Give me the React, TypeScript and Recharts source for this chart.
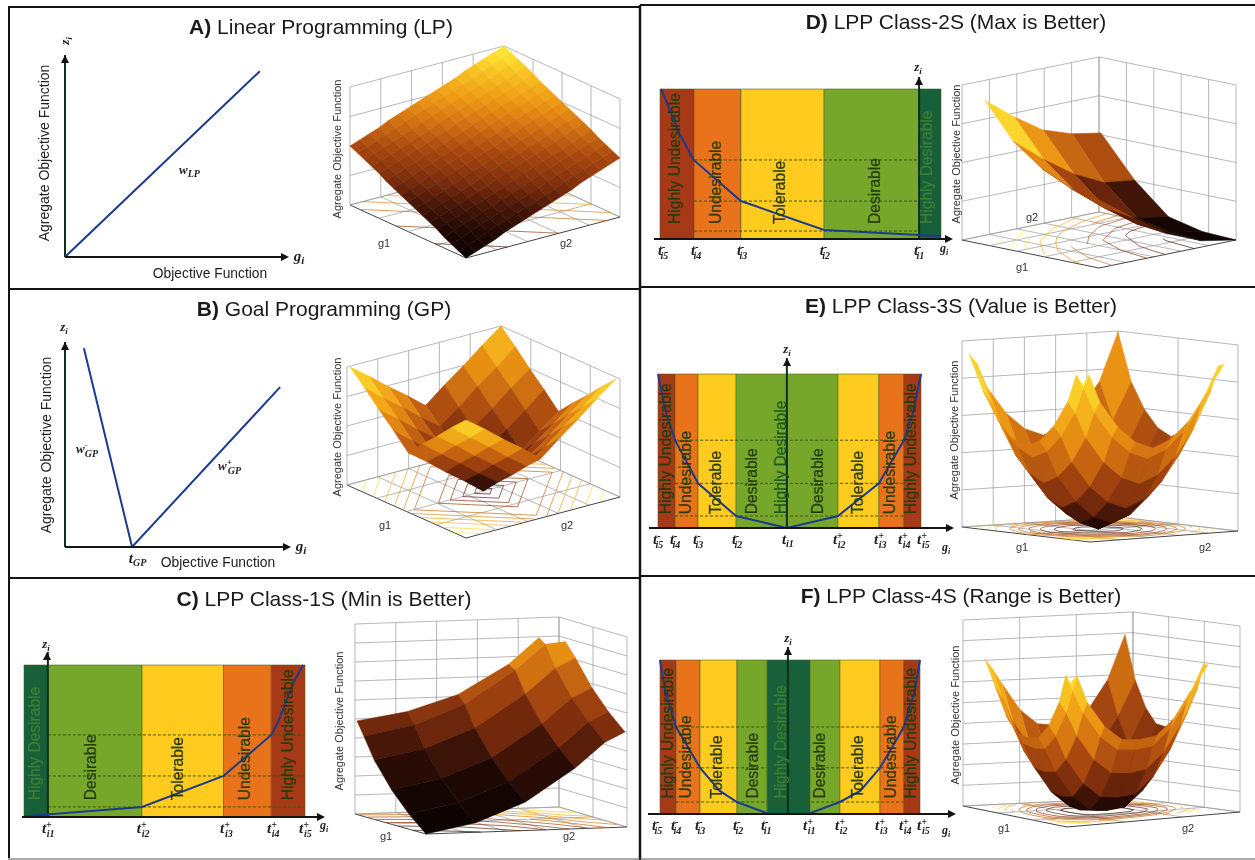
import React from 'react';
import { ComposedChart, XAxis, YAxis, Scatter, Line, ReferenceArea, ReferenceLine } from 'recharts';

// ---------- 2D chart values (g and z are percent of the plotted band span) ----------
const BAND_COLORS: Record<string, string> = { HU: '#a63a16', U: '#e8731a', T: '#ffcb1e', D: '#76a72a', HD: '#17603a' };
const LABEL_NAMES: Record<string, string> = { HU: 'Highly Undesirable', U: 'Undesirable', T: 'Tolerable', D: 'Desirable', HD: 'Highly Desirable' };

const lineA = [{ g: 0, z: 0 }, { g: 87, z: 92 }];
const lineB = [{ g: 8.4, z: 97 }, { g: 29.8, z: 0 }, { g: 95.6, z: 78 }];
const lineC = [{ g: 0, z: 0.5 }, { g: 42, z: 6.6 }, { g: 71, z: 27 }, { g: 88, z: 54 }, { g: 90.4, z: 62.5 }, { g: 96, z: 88.8 }, { g: 99.3, z: 100 }];
const lineD = [{ g: 0.4, z: 100 }, { g: 6.8, z: 70.7 }, { g: 12, z: 52.7 }, { g: 28.8, z: 25.3 }, { g: 58.4, z: 6 }, { g: 92.2, z: 2.7 }, { g: 100, z: 2 }];
const lineE = [{ g: 0, z: 100 }, { g: 3, z: 75 }, { g: 6.5, z: 57 }, { g: 15.2, z: 29 }, { g: 29.7, z: 7.8 }, { g: 49, z: 0 }, { g: 68.4, z: 7.8 }, { g: 84, z: 29 }, { g: 93.5, z: 57 }, { g: 97, z: 75 }, { g: 100, z: 100 }];
const lineFLeft = [{ g: 0, z: 100 }, { g: 2, z: 80 }, { g: 6.2, z: 56.5 }, { g: 15.4, z: 30 }, { g: 23, z: 15 }, { g: 29.6, z: 7.8 }, { g: 41.2, z: 0.5 }];
const lineFRight = [{ g: 57.7, z: 0.5 }, { g: 69.2, z: 7.8 }, { g: 77, z: 15 }, { g: 84.6, z: 30 }, { g: 93.8, z: 56.5 }, { g: 98, z: 80 }, { g: 100, z: 100 }];

const bandsC = [['HD', 0, 8.5], ['D', 8.5, 42], ['T', 42, 71], ['U', 71, 88], ['HU', 88, 100]];
const bandsD = [['HU', 0, 12.1], ['U', 12.1, 28.8], ['T', 28.8, 58.4], ['D', 58.4, 92.2], ['HD', 92.2, 100]];
const bandsE = [['HU', 0, 6.5], ['U', 6.5, 15.2], ['T', 15.2, 29.7], ['D', 29.7, 68.4], ['T', 68.4, 84], ['U', 84, 93.5], ['HU', 93.5, 100]];
const bandsF = [['HU', 0, 6.2], ['U', 6.2, 15.4], ['T', 15.4, 29.6], ['D', 29.6, 41.2], ['HD', 41.2, 57.7], ['D', 57.7, 69.2], ['T', 69.2, 84.6], ['U', 84.6, 93.8], ['HU', 93.8, 100]];

const labelsC = [['HD', 3.9], ['D', 23.5], ['T', 54.8], ['U', 78.6], ['HU', 93.6]];
const labelsD = [['HU', 5.3], ['U', 19.9], ['T', 42.7], ['D', 76.2], ['HD', 95]];
const labelsE = [['HU', 2.7], ['U', 10.3], ['T', 22], ['D', 35.4], ['HDL', 46.4], ['D', 60.8], ['T', 75.7], ['U', 88.2], ['HU', 96.2]];
const labelsF = [['HU', 2.7], ['U', 10], ['T', 21.9], ['D', 35.4], ['HD', 46.5], ['D', 61.5], ['T', 75.8], ['U', 88.8], ['HU', 96.5]];

const ticksC = [[8.5, '+', 'i1'], [42.3, '+', 'i2'], [71.9, '+', 'i3'], [88.6, '+', 'i4'], [100, '+', 'i5']];
const ticksD = [[1.4, '-', 'i5'], [13.2, '-', 'i4'], [29.5, '-', 'i3'], [59, '-', 'i2'], [92.5, '-', 'i1']];
const ticksE = [[0.4, '-', 'i5'], [6.8, '-', 'i4'], [15.6, '-', 'i3'], [30.4, '-', 'i2'], [49.4, '', 'i1'], [68.8, '+', 'i2'], [84.4, '+', 'i3'], [93.5, '+', 'i4'], [100.8, '+', 'i5']];
const ticksF = [[-0.8, '-', 'i5'], [6.5, '-', 'i4'], [15.8, '-', 'i3'], [30.4, '-', 'i2'], [41.2, '-', 'i1'], [57.3, '+', 'i1'], [69.6, '+', 'i2'], [85, '+', 'i3'], [94.2, '+', 'i4'], [101.2, '+', 'i5']];
const ticksB = [[31, '', 'GP']];

const dashC = [6.6, 27, 54];
const dashD = [5.3, 25.3, 52.7];
const dashE = [7.8, 29, 57];
const dashF = [7.8, 30, 56.5];

// ---------- 3D surface heights, rows along g1, columns along g2 ----------
const uvEven17 = [0, .0625, .125, .1875, .25, .3125, .375, .4375, .5, .5625, .625, .6875, .75, .8125, .875, .9375, 1];
const uvEven9 = [0, 0.125, 0.25, 0.375, 0.5, 0.625, 0.75, 0.875, 1];
const uvC = [0, 0.25, 0.5, 0.75, 0.9, 1];
const uvD = [0, 0.25, 0.5, 0.75, 1];
const uvFine = [0, 0.05, 0.125, 0.25, 0.375, 0.5, 0.625, 0.75, 0.875, 1];

const surfaceA = [
  [0, .03, .06, .09, .13, .16, .19, .22, .25, .28, .31, .34, .38, .41, .44, .47, .5],
  [.03, .06, .09, .13, .16, .19, .22, .25, .28, .31, .34, .38, .41, .44, .47, .5, .53],
  [.06, .09, .13, .16, .19, .22, .25, .28, .31, .34, .38, .41, .44, .47, .5, .53, .56],
  [.09, .13, .16, .19, .22, .25, .28, .31, .34, .38, .41, .44, .47, .5, .53, .56, .59],
  [.13, .16, .19, .22, .25, .28, .31, .34, .38, .41, .44, .47, .5, .53, .56, .59, .63],
  [.16, .19, .22, .25, .28, .31, .34, .38, .41, .44, .47, .5, .53, .56, .59, .63, .66],
  [.19, .22, .25, .28, .31, .34, .38, .41, .44, .47, .5, .53, .56, .59, .63, .66, .69],
  [.22, .25, .28, .31, .34, .38, .41, .44, .47, .5, .53, .56, .59, .63, .66, .69, .72],
  [.25, .28, .31, .34, .38, .41, .44, .47, .5, .53, .56, .59, .63, .66, .69, .72, .75],
  [.28, .31, .34, .38, .41, .44, .47, .5, .53, .56, .59, .63, .66, .69, .72, .75, .78],
  [.31, .34, .38, .41, .44, .47, .5, .53, .56, .59, .63, .66, .69, .72, .75, .78, .81],
  [.34, .38, .41, .44, .47, .5, .53, .56, .59, .63, .66, .69, .72, .75, .78, .81, .84],
  [.38, .41, .44, .47, .5, .53, .56, .59, .63, .66, .69, .72, .75, .78, .81, .84, .88],
  [.41, .44, .47, .5, .53, .56, .59, .63, .66, .69, .72, .75, .78, .81, .84, .88, .91],
  [.44, .47, .5, .53, .56, .59, .63, .66, .69, .72, .75, .78, .81, .84, .88, .91, .94],
  [.47, .5, .53, .56, .59, .63, .66, .69, .72, .75, .78, .81, .84, .88, .91, .94, .97],
  [.5, .53, .56, .59, .63, .66, .69, .72, .75, .78, .81, .84, .88, .91, .94, .97, 1],
];
const surfaceB = [
  [1, .88, .75, .63, .5, .63, .75, .88, 1],
  [.88, .75, .63, .5, .38, .5, .63, .75, .88],
  [.75, .63, .5, .38, .25, .38, .5, .63, .75],
  [.63, .5, .38, .25, .13, .25, .38, .5, .63],
  [.5, .38, .25, .13, 0, .13, .25, .38, .5],
  [.63, .5, .38, .25, .13, .25, .38, .5, .63],
  [.75, .63, .5, .38, .25, .38, .5, .63, .75],
  [.88, .75, .63, .5, .38, .5, .63, .75, .88],
  [1, .88, .75, .63, .5, .63, .75, .88, 1],
];
const surfaceC = [
  [0, .05, .15, .32, .45, .50],
  [.08, .13, .23, .40, .53, .58],
  [.18, .23, .33, .50, .63, .68],
  [.31, .36, .46, .63, .76, .81],
  [.42, .47, .57, .74, .87, .88],
  [.49, .53, .61, .76, .895, .78],
];
const surfaceD = [
  [.44, .28, .13, .04, 0],
  [.47, .30, .15, .05, .01],
  [.55, .37, .21, .10, .06],
  [.68, .52, .38, .28, .25],
  [.90, .75, .62, .55, .51],
];
const surfaceE = [
  [.83, .89, .74, .60, .51, .47, .51, .60, .74, .89],
  [.89, .82, .68, .54, .45, .41, .45, .54, .68, .88],
  [.74, .68, .54, .40, .31, .27, .31, .40, .54, .74],
  [.60, .54, .40, .26, .17, .13, .17, .26, .40, .60],
  [.51, .45, .31, .17, .08, .04, .08, .17, .31, .51],
  [.47, .41, .27, .13, .04, 0, .04, .13, .27, .47],
  [.51, .45, .31, .17, .08, .04, .08, .17, .31, .51],
  [.60, .54, .40, .26, .17, .13, .17, .26, .40, .60],
  [.74, .68, .54, .40, .31, .27, .31, .40, .54, .74],
  [.93, .88, .74, .60, .51, .47, .51, .60, .74, 1],
];
const surfaceF = [
  [.76, .80, .65, .51, .43, .42, .43, .51, .65, .78],
  [.80, .72, .59, .45, .37, .36, .37, .45, .59, .78],
  [.65, .59, .46, .32, .24, .23, .24, .32, .46, .65],
  [.51, .45, .32, .18, .10, .09, .10, .18, .32, .51],
  [.43, .37, .24, .10, .02, .01, .02, .10, .24, .43],
  [.42, .36, .23, .09, .01, 0, .01, .09, .23, .42],
  [.43, .37, .24, .10, .02, .01, .02, .10, .24, .43],
  [.51, .45, .32, .18, .10, .09, .10, .18, .32, .51],
  [.65, .59, .46, .32, .24, .23, .24, .32, .46, .65],
  [.79, .74, .65, .51, .43, .42, .43, .51, .65, .89],
];
const contourLevels = [0.06, 0.14, 0.22, 0.3, 0.38, 0.46, 0.54, 0.62, 0.7, 0.8, 0.9];

// ---------- colour map ----------
const STOPS: [number, number[]][] = [
  [0, [11, 3, 1]], [0.12, [30, 8, 4]], [0.25, [74, 24, 8]], [0.35, [122, 44, 12]], [0.5, [168, 72, 15]],
  [0.65, [216, 121, 18]], [0.75, [238, 154, 20]], [0.88, [248, 196, 34]], [1, [255, 239, 58]],
];
function hot(t: number) {
  const v = Math.max(0, Math.min(1, t));
  for (let i = 1; i < STOPS.length; i++) {
    if (v <= STOPS[i][0]) {
      const [a, ca] = STOPS[i - 1];
      const [b, cb] = STOPS[i];
      const f = (v - a) / (b - a);
      const c = ca.map((x, k) => Math.round(x + (cb[k] - x) * f));
      return `rgb(${c[0]},${c[1]},${c[2]})`;
    }
  }
  return 'rgb(255,239,58)';
}

// ---------- 3D panel ----------
type P = [number, number];
type View = {
  box: { L: P; R: P; F: P; B: P }; surf: { L: P; R: P; F: P; B: P }; h: number;
  u: number[]; v: number[]; z: number[][]; cs: number; gamma: number; back: number; divL: number; divR: number; divZ: number;
};
const lerp = (a: P, b: P, t: number): P => [a[0] + (b[0] - a[0]) * t, a[1] + (b[1] - a[1]) * t];
const quad = (q: View['surf'], u: number, v: number): P => lerp(lerp(q.F, q.L, u), lerp(q.R, q.B, u), v);

function buildPrims(w: View) {
  const prims: any[] = [];
  const seg = (pts: P[], stroke: string, sw: number) => prims.push({ x: pts[0][0], y: pts[0][1], pts, stroke, sw, fill: 'none' });
  const { L, R, F, B } = w.box;
  const up = (p: P, k: number): P => [p[0], p[1] - k * w.h];
  const grid = '#999';
  for (let k = 0; k <= w.divZ; k++) {
    const t = k / w.divZ;
    seg([up(L, t), up(B, t), up(R, t)], grid, 0.7);
  }
  for (let a = 0; a <= w.divL; a++) {
    const p = lerp(L, B, a / w.divL);
    seg([up(p, 0), up(p, 1)], grid, 0.7);
    seg([p, lerp(F, R, a / w.divL)], a === 0 ? '#444' : grid, a === 0 ? 1 : 0.7);
  }
  for (let b = 0; b <= w.divR; b++) {
    const p = lerp(R, B, b / w.divR);
    seg([up(p, 0), up(p, 1)], grid, 0.7);
    seg([p, lerp(F, L, b / w.divR)], b === 0 ? '#444' : grid, b === 0 ? 1 : 0.7);
  }
  // contours of the height table, on the floor
  const n = w.u.length, m = w.v.length;
  contourLevels.forEach((lv) => {
    for (let i = 0; i < n - 1; i++) for (let j = 0; j < m - 1; j++) {
      const c: [number, number, number][] = [
        [w.u[i], w.v[j], w.z[i][j]], [w.u[i + 1], w.v[j], w.z[i + 1][j]],
        [w.u[i + 1], w.v[j + 1], w.z[i + 1][j + 1]], [w.u[i], w.v[j + 1], w.z[i][j + 1]],
      ];
      const cross: P[] = [];
      for (let e = 0; e < 4; e++) {
        const a = c[e], b = c[(e + 1) % 4];
        if ((a[2] - lv) * (b[2] - lv) < 0) {
          const t = (lv - a[2]) / (b[2] - a[2]);
          cross.push(quad(w.surf, a[0] + (b[0] - a[0]) * t, a[1] + (b[1] - a[1]) * t));
        }
      }
      const col = hot(lv * w.cs + 0.15);
      if (cross.length >= 2) seg([cross[0], cross[1]], col, 0.7);
      if (cross.length === 4) seg([cross[2], cross[3]], col, 0.7);
    }
  });
  // facets, back to front
  const facets: any[] = [];
  for (let i = 0; i < n - 1; i++) for (let j = 0; j < m - 1; j++) {
    const node = (a: number, b: number): P => up(quad(w.surf, w.u[a], w.v[b]), w.z[a][b]);
    const pts = [node(i, j), node(i + 1, j), node(i + 1, j + 1), node(i, j + 1)];
    const mean = (w.z[i][j] + w.z[i + 1][j] + w.z[i + 1][j + 1] + w.z[i][j + 1]) / 4;
    const um = (w.u[i] + w.u[i + 1]) / 2, vm = (w.v[j] + w.v[j + 1]) / 2;
    const shade = um > 0.5 && vm > 0.5 ? w.back : 1;
    const c = hot(Math.pow(Math.min(1, mean * w.cs), w.gamma) * shade);
    const depth = quad(w.surf, um, vm)[1];
    facets.push({ x: pts[0][0], y: pts[0][1], pts, fill: c, stroke: c, sw: 0.5, closed: true, depth });
  }
  facets.sort((a, b) => a.depth - b.depth);
  return prims.concat(facets);
}

const PrimShape = (p: any) => {
  const d = p.payload;
  const cx = p.cx ?? p.x;
  const cy = p.cy ?? p.y;
  if (cx == null || !d || !d.pts) return <g />;
  const path = d.pts.map((q: P, i: number) => `${i ? 'L' : 'M'}${cx + q[0] - d.x} ${cy + q[1] - d.y}`).join(' ') + (d.closed ? 'Z' : '');
  return <path d={path} fill={d.fill} stroke={d.stroke} strokeWidth={d.sw} strokeLinejoin="round" />;
};

function Surface3D({ view }: { view: View }) {
  const prims = buildPrims(view);
  const xs: number[] = [], ys: number[] = [];
  prims.forEach((q) => q.pts.forEach((r: P) => { xs.push(r[0]); ys.push(r[1]); }));
  const left = Math.floor(Math.min(...xs)) - 6, top = Math.floor(Math.min(...ys)) - 6;
  const width = Math.ceil(Math.max(...xs)) + 6 - left, height = Math.ceil(Math.max(...ys)) + 6 - top;
  return (
    <div style={{ position: 'absolute', left, top, width, height }}>
      <ComposedChart width={width} height={height} margin={{ top: 0, right: 0, bottom: 0, left: 0 }}>
        <XAxis type="number" dataKey="x" domain={[left, left + width]} hide />
        <YAxis type="number" dataKey="y" domain={[top, top + height]} reversed hide />
        <Scatter data={prims} dataKey="y" isAnimationActive={false} shape={PrimShape} />
      </ComposedChart>
    </div>
  );
}

// ---------- 2D panel ----------
const TXT = '#263c10';
const BandLabel = (p: any) => {
  const { cx, cy, payload } = p;
  if (cx == null) return <g />;
  const key = payload.key;
  const text = LABEL_NAMES[key === 'HDL' ? 'HD' : key];
  const col = key === 'HD' ? '#3e7d33' : key === 'HDL' ? '#1d5a22' : TXT;
  const x = cx + 5.5;
  return <text x={x} y={cy} transform={`rotate(-90 ${x} ${cy})`} fontFamily="Liberation Sans" fontSize={15.6} fill={col} stroke={col} strokeWidth={0.25}>{text}</text>;
};

function makeTick(ticks: any[]) {
  return (p: any) => {
    const t = ticks[p.index];
    if (!t) return <g />;
    const ff = 'Liberation Serif';
    return (
      <text x={p.x - 6} y={p.y + 8} fontFamily={ff} fontStyle="italic" fontWeight="bold" fontSize={15} fill="#222">
        t
        {t[1] ? <tspan fontSize={10} dy={-5}>{t[1]}</tspan> : null}
        <tspan fontSize={10} dx={t[1] ? -5 : 0} dy={t[1] ? 9 : 3}>{t[2]}</tspan>
      </text>
    );
  };
}

type Cfg = {
  x0: number; x1: number; yb: number; yt: number; axisStart: number; axisEnd: number; arrowTop: number; axisG: number;
  bands: any[]; labels: any[]; labelZ: number; ticks: any[]; dash: number[]; lines: any[];
};

function Panel2D({ c }: { c: Cfg }) {
  const kx = (c.x1 - c.x0) / 100, ky = (c.yb - c.yt) / 100;
  const pad = 16;
  const xh = 30;
  const dMin = (c.axisStart - c.x0) / kx, dMax = (c.axisEnd - c.x0) / kx;
  const topZ = (c.yb - c.arrowTop) / ky;
  const width = c.axisEnd - c.axisStart + pad * 2;
  const height = c.yb - c.arrowTop + xh;
  const labelData = c.labels.map((l) => ({ key: l[0], g: l[1], z: c.labelZ }));
  const dashEnd = c.bands.length ? c.bands[c.bands.length - 1] : null;
  return (
    <div style={{ position: 'absolute', left: c.axisStart - pad, top: c.arrowTop, width, height }}>
      <ComposedChart width={width} height={height} margin={{ top: 0, right: pad, bottom: 0, left: pad }}>
        <XAxis
          type="number" dataKey="g" domain={[dMin, dMax]} allowDataOverflow height={xh}
          ticks={c.ticks.length ? c.ticks.map((t) => t[0]) : undefined}
          interval={0} tickLine={false}
          tick={c.ticks.length ? makeTick(c.ticks) : false}
          axisLine={{ stroke: '#151515', strokeWidth: 2 }}
        />
        <YAxis type="number" dataKey="z" domain={[0, topZ]} allowDataOverflow hide />
        {c.bands.map((b, i) => (
          <ReferenceArea key={i} x1={b[1]} x2={b[2]} y1={0} y2={100} fill={BAND_COLORS[b[0]]} fillOpacity={1} stroke="#4e5a1c" strokeOpacity={0.55} strokeWidth={1} />
        ))}
        {c.dash.map((d, i) => (
          <ReferenceLine key={i} segment={[{ x: dashEnd ? c.bands[1][1] : 0, y: d }, { x: c.bands.length ? c.bands[c.bands.length - 2][2] + (c.bands.length === 5 && c.bands[0][0] === 'HD' ? 12 : 0) : 100, y: d }]} stroke="#3e5a10" strokeDasharray="3 2" strokeWidth={1} />
        ))}
        {c.labels.length ? <Scatter data={labelData} dataKey="z" isAnimationActive={false} shape={BandLabel} /> : null}
        <ReferenceLine x={c.axisG} stroke="#10301a" strokeWidth={2} />
        {c.lines.map((l, i) => (
          <Line key={i} data={l} dataKey="z" type="linear" stroke="#1c3a8e" strokeWidth={2} dot={false} isAnimationActive={false} />
        ))}
      </ComposedChart>
    </div>
  );
}

const panels: Cfg[] = [
  { x0: 65, x1: 289, yb: 257, yt: 55, axisStart: 65, axisEnd: 287, arrowTop: 55, axisG: 0, bands: [], labels: [], labelZ: 0, ticks: [], dash: [], lines: [lineA] },
  { x0: 65, x1: 290, yb: 547, yt: 342, axisStart: 65, axisEnd: 288, arrowTop: 342, axisG: 0, bands: [], labels: [], labelZ: 0, ticks: ticksB, dash: [], lines: [lineB] },
  { x0: 24, x1: 305, yb: 817, yt: 665, axisStart: 22, axisEnd: 323, arrowTop: 652, axisG: 8.5, bands: bandsC, labels: labelsC, labelZ: 11, ticks: ticksC, dash: dashC, lines: [lineC] },
  { x0: 660, x1: 941, yb: 239, yt: 89, axisStart: 654, axisEnd: 951, arrowTop: 77, axisG: 92.2, bands: bandsD, labels: labelsD, labelZ: 10, ticks: ticksD, dash: dashD, lines: [lineD] },
  { x0: 658, x1: 921, yb: 528, yt: 374, axisStart: 649, axisEnd: 952, arrowTop: 358, axisG: 49, bands: bandsE, labels: labelsE, labelZ: 9, ticks: ticksE, dash: dashE, lines: [lineE] },
  { x0: 660, x1: 920, yb: 814, yt: 660, axisStart: 648, axisEnd: 954, arrowTop: 647, axisG: 49.2, bands: bandsF, labels: labelsF, labelZ: 10, ticks: ticksF, dash: dashF, lines: [lineFLeft, lineFRight] },
];

const views: View[] = [
  { box: { L: [350, 205], R: [620, 217], F: [466, 258], B: [504, 164] }, surf: { L: [350, 205], R: [620, 217], F: [466, 258], B: [504, 164] }, h: 118, u: uvEven17, v: uvEven17, z: surfaceA, cs: 1, gamma: 1, back: 1, divL: 5, divR: 4, divZ: 4 },
  { box: { L: [347, 485], R: [620, 497], F: [466, 538], B: [501, 444] }, surf: { L: [350, 485], R: [616, 497], F: [466, 538], B: [501, 444] }, h: 118, u: uvEven9, v: uvEven9, z: surfaceB, cs: 1, gamma: 0.8, back: 0.9, divL: 5, divR: 4, divZ: 4 },
  { box: { L: [355, 814], R: [627, 827], F: [426, 834], B: [559, 807] }, surf: { L: [357, 814], R: [625, 827], F: [426, 834], B: [559, 807] }, h: 190, u: uvC, v: uvC, z: surfaceC, cs: 0.95, gamma: 1.4, back: 1, divL: 5, divR: 2, divZ: 10 },
  { box: { L: [962, 240], R: [1236, 240], F: [1099, 268], B: [1099, 212] }, surf: { L: [985, 240], R: [1236, 240], F: [1099, 268], B: [1101, 212] }, h: 155, u: uvD, v: uvD, z: surfaceD, cs: 1.3, gamma: 1, back: 1, divL: 5, divR: 5, divZ: 4 },
  { box: { L: [962, 527], R: [1238, 531], F: [1090, 542], B: [1118, 517] }, surf: { L: [969, 527], R: [1224, 530], F: [1082, 541], B: [1118, 518] }, h: 186, u: uvFine, v: uvFine, z: surfaceE, cs: 1.1, gamma: 0.65, back: 0.82, divL: 5, divR: 2, divZ: 5 },
  { box: { L: [963, 806], R: [1240, 812], F: [1067, 827], B: [1133, 798] }, surf: { L: [985, 806], R: [1208, 810], F: [1070, 825], B: [1125, 800] }, h: 186, u: uvFine, v: uvFine, z: surfaceF, cs: 1.2, gamma: 0.72, back: 0.72, divL: 3, divR: 3, divZ: 9 },
];

// ---------- text and frame overlay ----------
const SANS = 'Liberation Sans';
const SERIF = 'Liberation Serif';
const titles: [string, string, number, number][] = [
  ['A)', ' Linear Programming (LP)', 321, 34],
  ['B)', ' Goal Programming (GP)', 324, 316],
  ['C)', ' LPP Class-1S (Min is Better)', 324, 606],
  ['D)', ' LPP Class-2S (Max is Better)', 956, 29],
  ['E)', ' LPP Class-3S (Value is Better)', 961, 313],
  ['F)', ' LPP Class-4S (Range is Better)', 961, 603],
];
const bigY: [number, number][] = [[49, 153], [51, 445]];
const smallY: [number, number][] = [[341, 149], [341, 427], [343, 721], [960, 154], [958, 430], [959, 715]];
const objLabels: [number, number][] = [[210, 278], [218, 567]];
const gLabels: [string, number, number][] = [
  ['g1', 384, 247], ['g2', 566, 247], ['g1', 385, 529], ['g2', 567, 529], ['g1', 386, 840], ['g2', 569, 840],
  ['g2', 1032, 221], ['g1', 1022, 271], ['g1', 1022, 551], ['g2', 1205, 551], ['g1', 1004, 832], ['g2', 1188, 832],
];
const ziMarks: [number, number][] = [[64, 46], [64, 331], [46, 648], [918, 71], [787, 353], [788, 642]];
const giMarks: [number, number, number][] = [[299, 261, 15], [301, 551, 15], [324, 829, 12], [944, 252, 12], [946, 551, 12], [946, 834, 12]];
const arrows: [number, number, string][] = [
  [65, 55, 'u'], [65, 342, 'u'], [47, 652, 'u'], [919, 77, 'u'], [787, 358, 'u'], [788, 647, 'u'],
  [289, 257, 'r'], [291, 547, 'r'], [325, 817, 'r'], [953, 239, 'r'], [954, 528, 'r'], [956, 814, 'r'],
];

function Overlay() {
  const frame = '#141414';
  return (
    <svg width={1255} height={860} style={{ position: 'absolute', left: 0, top: 0, pointerEvents: 'none' }}>
      <line x1={8} y1={7} x2={640} y2={7} stroke={frame} strokeWidth={2} />
      <line x1={640} y1={5} x2={1255} y2={5} stroke={frame} strokeWidth={2} />
      <line x1={9} y1={7} x2={9} y2={858} stroke={frame} strokeWidth={2} />
      <line x1={640} y1={5} x2={640} y2={860} stroke={frame} strokeWidth={2.5} />
      <line x1={8} y1={289} x2={640} y2={289} stroke={frame} strokeWidth={2} />
      <line x1={8} y1={578} x2={640} y2={578} stroke={frame} strokeWidth={2} />
      <line x1={640} y1={287} x2={1255} y2={287} stroke={frame} strokeWidth={2} />
      <line x1={640} y1={576} x2={1255} y2={576} stroke={frame} strokeWidth={2} />
      <line x1={8} y1={859} x2={1255} y2={859} stroke="#555" strokeWidth={1} />
      {titles.map((t, i) => (
        <text key={i} x={t[2]} y={t[3]} textAnchor="middle" fontFamily={SANS} fontSize={21} fill="#1a1a1a">
          <tspan fontWeight="bold">{t[0]}</tspan>{t[1]}
        </text>
      ))}
      {bigY.map((p, i) => (
        <text key={i} x={p[0]} y={p[1]} transform={`rotate(-90 ${p[0]} ${p[1]})`} textAnchor="middle" fontFamily={SANS} fontSize={14} fill="#222">Agregate Objective Function</text>
      ))}
      {smallY.map((p, i) => (
        <text key={i} x={p[0]} y={p[1]} transform={`rotate(-90 ${p[0]} ${p[1]})`} textAnchor="middle" fontFamily={SANS} fontSize={11} fill="#333">Agregate Objective Function</text>
      ))}
      {objLabels.map((p, i) => (
        <text key={i} x={p[0]} y={p[1]} textAnchor="middle" fontFamily={SANS} fontSize={13.8} fill="#222">Objective Function</text>
      ))}
      {gLabels.map((p, i) => (
        <text key={i} x={p[1]} y={p[2]} textAnchor="middle" fontFamily={SANS} fontSize={11} fill="#333">{p[0]}</text>
      ))}
      {ziMarks.map((p, i) => (
        <text key={i} x={p[0]} y={p[1]} textAnchor="middle" fontFamily={SERIF} fontStyle="italic" fontWeight="bold" fontSize={13} fill="#222"
          transform={i === 0 ? `rotate(-90 ${p[0]} ${p[1] - 5})` : undefined}>z<tspan fontSize={9} dy={3}>i</tspan></text>
      ))}
      {giMarks.map((p, i) => (
        <text key={i} x={p[0]} y={p[1]} textAnchor="middle" fontFamily={SERIF} fontStyle="italic" fontWeight="bold" fontSize={p[2]} fill="#222">g<tspan fontSize={p[2] - 4} dy={3}>i</tspan></text>
      ))}
      <text x={179} y={174} fontFamily={SERIF} fontStyle="italic" fontWeight="bold" fontSize={13} fill="#222">w<tspan fontSize={10} dy={3}>LP</tspan></text>
      <text x={76} y={453} fontFamily={SERIF} fontStyle="italic" fontWeight="bold" fontSize={13} fill="#222">w<tspan fontSize={9} dy={-5}>-</tspan><tspan fontSize={10} dx={-3} dy={9}>GP</tspan></text>
      <text x={218} y={470} fontFamily={SERIF} fontStyle="italic" fontWeight="bold" fontSize={13} fill="#222">w<tspan fontSize={9} dy={-5}>+</tspan><tspan fontSize={10} dx={-4} dy={9}>GP</tspan></text>
      {arrows.map((a, i) => (
        <path key={i} fill="#111" d={a[2] === 'u'
          ? `M${a[0]} ${a[1]}L${a[0] - 4} ${a[1] + 8}L${a[0] + 4} ${a[1] + 8}Z`
          : `M${a[0]} ${a[1]}L${a[0] - 8} ${a[1] - 4}L${a[0] - 8} ${a[1] + 4}Z`} />
      ))}
    </svg>
  );
}

export default function App() {
  return (
    <div style={{ position: 'absolute', left: 0, top: 0, width: 1255, height: 860, overflow: 'hidden', background: '#fff', filter: 'blur(0.4px)' }}>
      {views.map((v, i) => <Surface3D key={i} view={v} />)}
      {panels.map((c, i) => <Panel2D key={i} c={c} />)}
      <Overlay />
    </div>
  );
}
